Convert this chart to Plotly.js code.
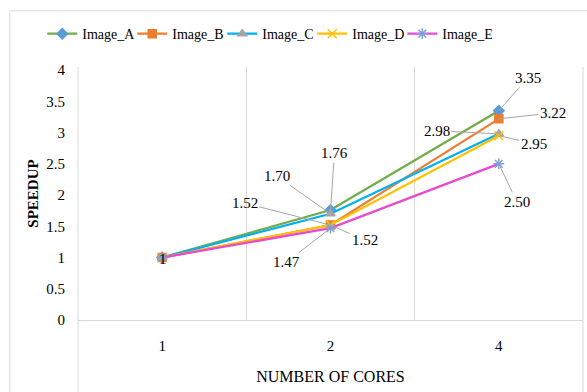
<!DOCTYPE html>
<html>
<head>
<meta charset="utf-8">
<script src="https://cdn.plot.ly/plotly-3.0.1.min.js"></script>
<style>
  html, body { margin: 0; padding: 0; background: #fff; }
  #chart { width: 587px; height: 392px; }
</style>
</head>
<body>
<div id="chart"></div>
<script>
// Speedup per number of cores for five test images
const cores = ["1", "2", "4"];
const seriesNames = ["Image_A", "Image_B", "Image_C", "Image_D", "Image_E"];
const imageA = [1, 1.76, 3.35];
const imageB = [1, 1.52, 3.22];
const imageC = [1, 1.70, 2.98];
const imageD = [1, 1.52, 2.95];
const imageE = [1, 1.47, 2.50];

const values = [imageA, imageB, imageC, imageD, imageE];
const lineColors = ["#70AD47", "#ED7D31", "#00B0F0", "#FFC000", "#E84ACF"];
const markerColors = ["#5B9BD5", "#ED7D31", "#A5A5A5", "#FFC000", "#7F9FD8"];
const markerSymbols = ["diamond", "square", "triangle-up", "x-thin-open", "asterisk-open"];
const markerSizes = [8, 8, 8, 9, 9];

const serif = "Liberation Serif";

const traces = values.map((v, i) => ({
  type: "scatter",
  mode: "lines+markers",
  name: seriesNames[i],
  x: cores,
  y: v,
  line: { color: lineColors[i], width: 2.25 },
  marker: {
    symbol: markerSymbols[i],
    size: markerSizes[i],
    color: markerColors[i],
    line: { color: markerColors[i], width: 1.5 }
  }
}));

// Value labels with leader lines: [series index, point index, dx, dy]
const labelSpots = [
  [0, 1, 4, -57],
  [2, 1, -54, -38],
  [1, 1, -86, -22],
  [3, 1, 34, 15],
  [4, 1, -44, 34],
  [0, 2, 29, -33],
  [1, 2, 54, -6],
  [2, 2, -62, -3],
  [3, 2, 35, 8],
  [4, 2, 18, 38]
];

// annotations on a category axis are placed by category index
const annotations = labelSpots.map(([s, p, dx, dy]) => ({
  x: p, y: values[s][p], xref: "x", yref: "y",
  text: values[s][p].toFixed(2),
  showarrow: true, arrowhead: 0, arrowwidth: 1, arrowcolor: "#A6A6A6",
  standoff: 0, ax: dx, ay: dy,
  font: { family: serif, size: 15, color: "#000" }
}));

// the shared starting value at one core
annotations.push({
  x: 0, y: imageA[0], xref: "x", yref: "y",
  text: String(imageA[0]), showarrow: false, xshift: 1, yshift: -1,
  font: { family: serif, size: 15, color: "#000" }
});

const layout = {
  width: 587, height: 392,
  margin: { l: 78, r: 4, t: 67, b: 72 },
  paper_bgcolor: "#fff", plot_bgcolor: "#fff",
  font: { family: serif, size: 15, color: "#000" },
  showlegend: true,
  legend: {
    orientation: "h", x: 0.072, xanchor: "left", xref: "container",
    y: 0.913, yref: "container", yanchor: "middle",
    itemwidth: 30, entrywidth: 45, entrywidthmode: "pixels",
    font: { family: serif, size: 14, color: "#000" },
    bgcolor: "rgba(0,0,0,0)"
  },
  xaxis: {
    type: "category",
    tickson: "boundaries",
    range: [-0.5, 2.5],
    showgrid: true, gridcolor: "#D9D9D9", gridwidth: 1,
    showline: true, linecolor: "#D9D9D9", linewidth: 1,
    ticks: "", ticklabelstandoff: 12,
    tickfont: { family: serif, size: 15, color: "#000" },
    zeroline: false,
    title: { text: "NUMBER OF CORES", standoff: 17, font: { family: serif, size: 16, color: "#000" } }
  },
  yaxis: {
    range: [0, 4.05],
    tickvals: [0, 0.5, 1, 1.5, 2, 2.5, 3, 3.5, 4],
    ticktext: ["0", "0.5", "1", "1.5", "2", "2.5", "3", "3.5", "4"],
    showgrid: false, zeroline: false,
    showline: false,
    ticks: "", ticklabelstandoff: 12,
    tickfont: { family: serif, size: 15, color: "#000" },
    title: { text: "<b>SPEEDUP</b>", standoff: 4, font: { family: serif, size: 15, color: "#000" } }
  },
  shapes: [
    // outer chart frame
    { type: "rect", xref: "paper", yref: "paper", x0: -0.135, x1: 1.1, y0: -0.5, y1: 1.222,
      line: { color: "#D9D9D9", width: 1 }, fillcolor: "rgba(0,0,0,0)", layer: "below" },
    // plot area left and right edges
    { type: "line", xref: "paper", yref: "paper", x0: 0, x1: 0, y0: -0.5, y1: 1,
      line: { color: "#D9D9D9", width: 1 } },
    { type: "line", xref: "paper", yref: "paper", x0: 1, x1: 1, y0: -0.5, y1: 1,
      line: { color: "#D9D9D9", width: 1 } }
  ],
  annotations: annotations
};

Plotly.newPlot("chart", traces, layout, { displayModeBar: false, staticPlot: true });
</script>
</body>
</html>
